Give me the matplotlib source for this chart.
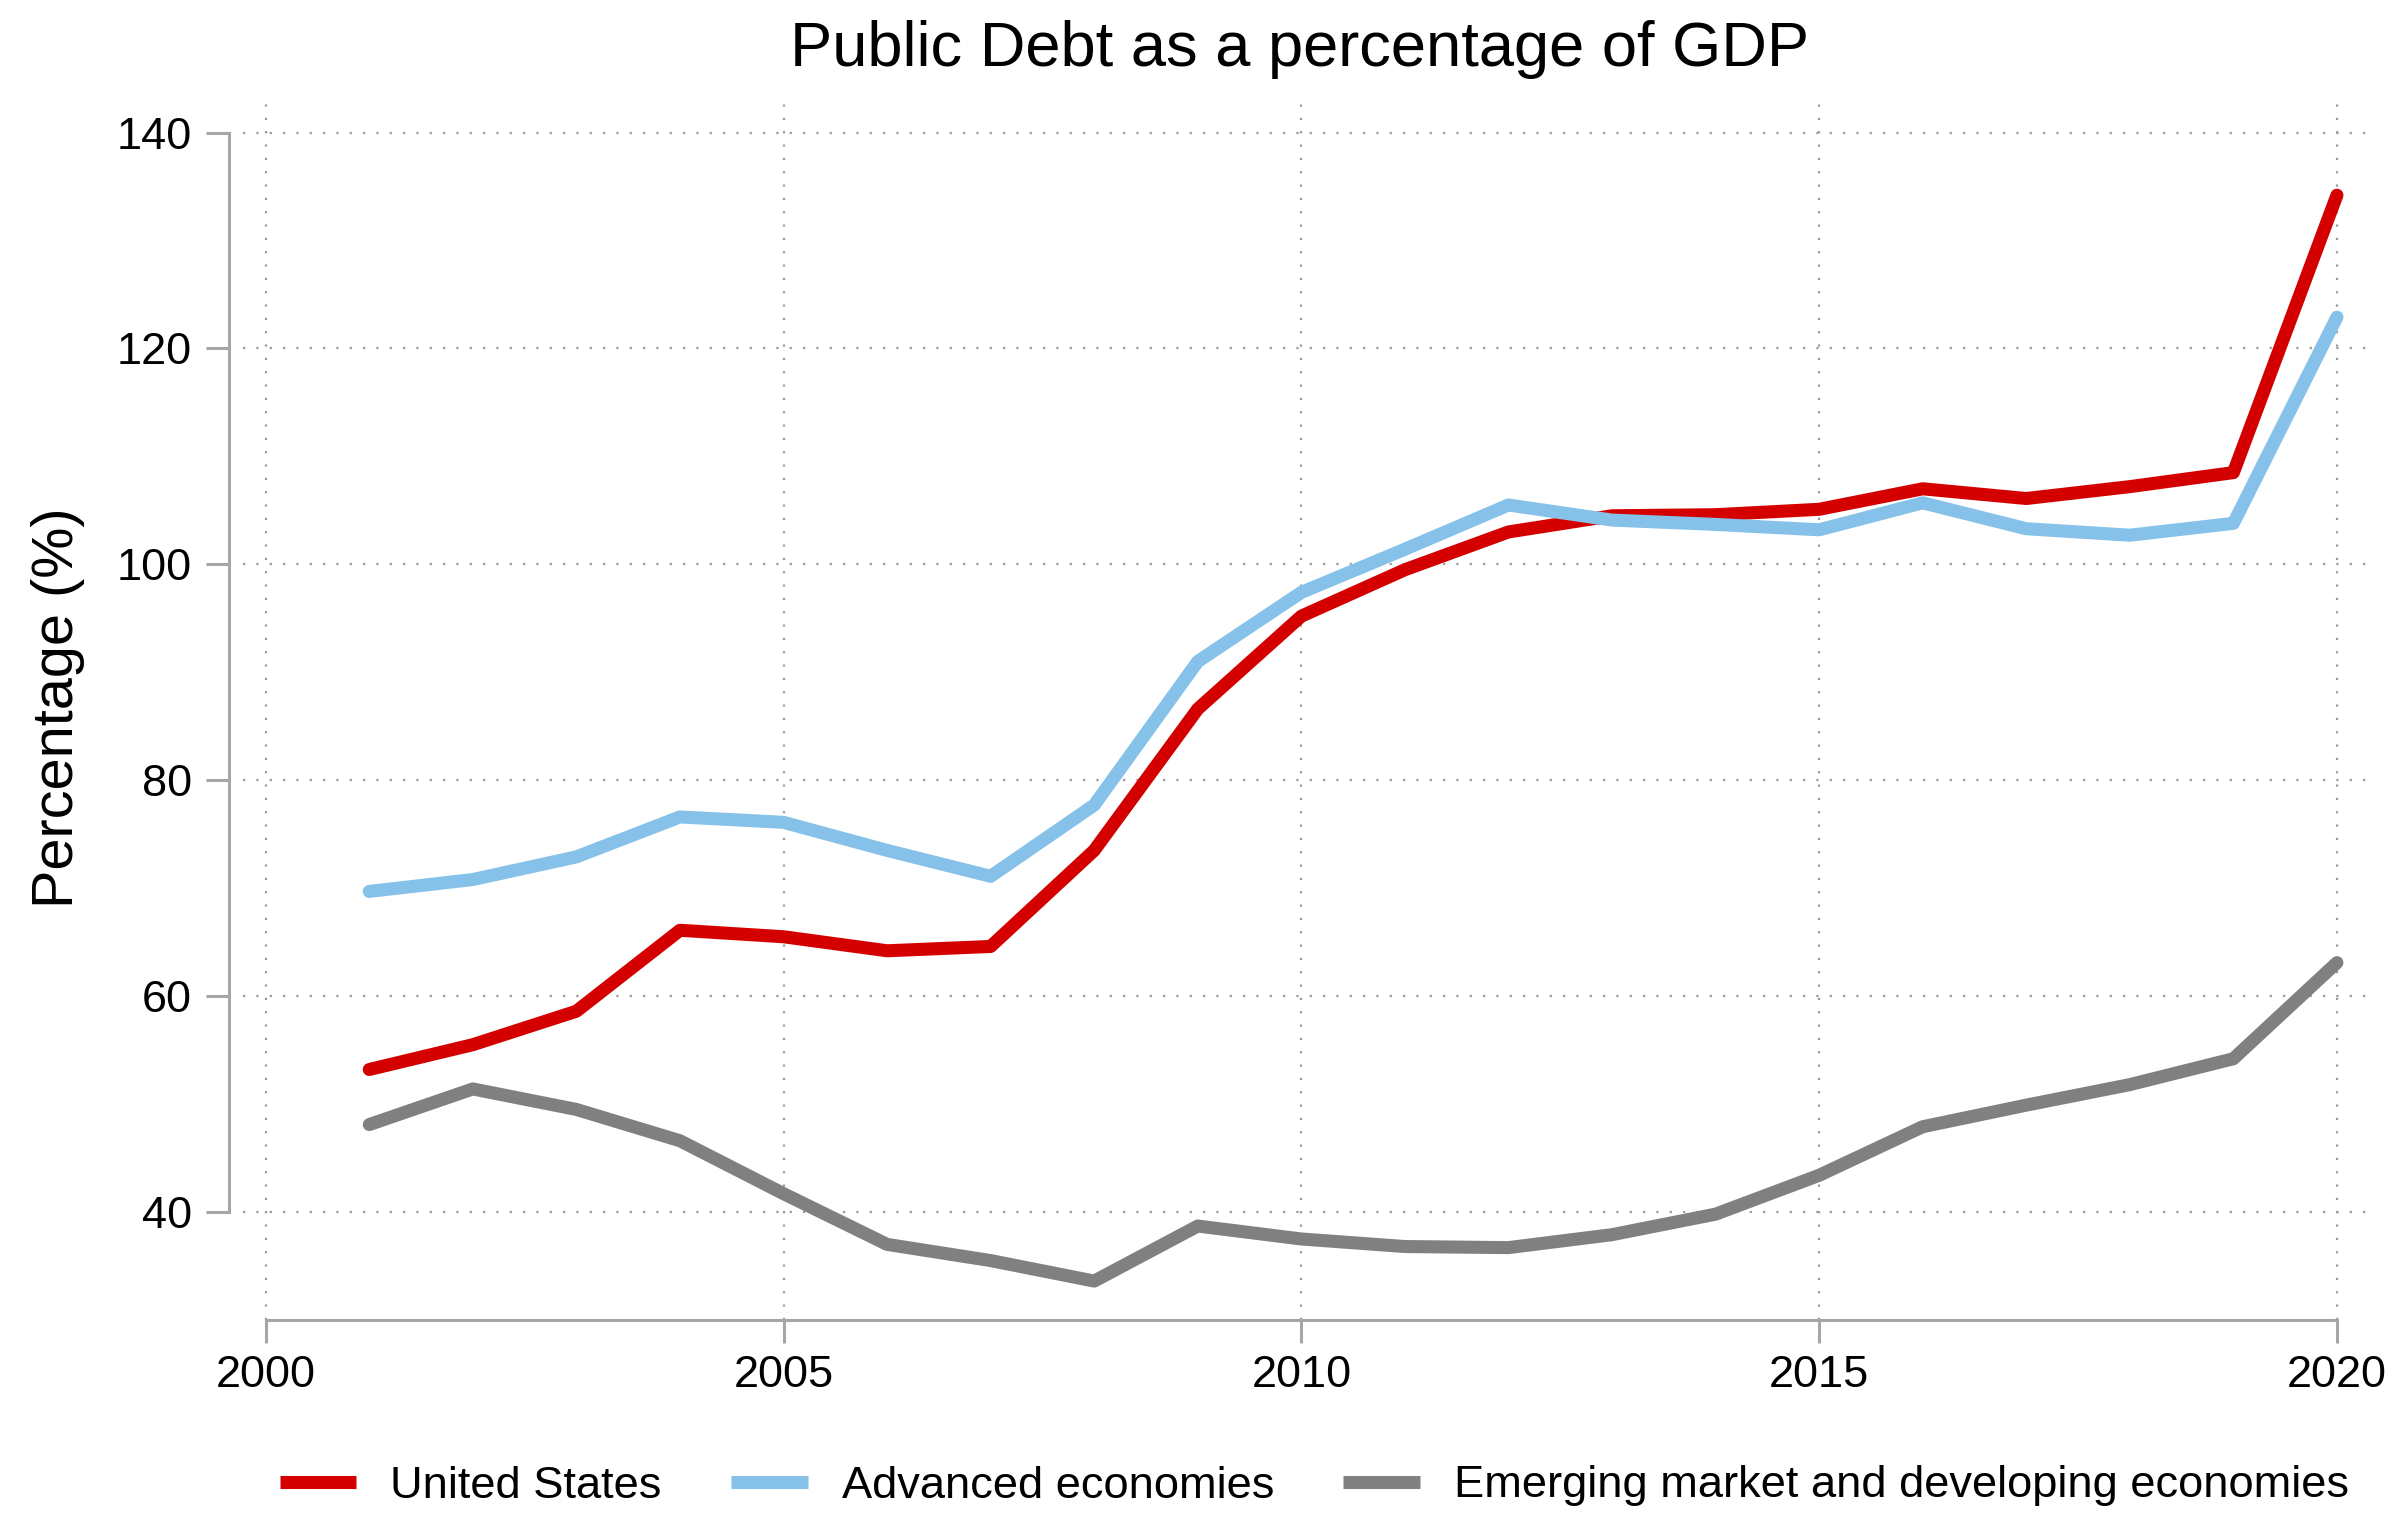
import numpy as np
import matplotlib
matplotlib.use("Agg")
import matplotlib.pyplot as plt

plt.rcParams['font.family'] = ['Liberation Sans', 'DejaVu Sans']

# ─────────────────────────────────────────────
# DATA
# ─────────────────────────────────────────────
years = list(range(2001, 2021))

us_debt = [53.2, 55.5, 58.6, 66.1, 65.5, 64.2, 64.6, 73.5, 86.6, 95.2,
           99.5, 103.0, 104.5, 104.6, 105.1, 107.0, 106.1, 107.2, 108.5, 134.2]

advanced = [69.7, 70.8, 72.9, 76.6, 76.1, 73.5, 71.1, 77.7, 91.0, 97.4,
            101.4, 105.5, 104.1, 103.7, 103.2, 105.7, 103.3, 102.7, 103.8, 122.9]

emerging = [48.1, 51.4, 49.5, 46.6, 41.7, 37.0, 35.5, 33.6, 38.7, 37.5,
            36.8, 36.7, 37.9, 39.8, 43.4, 47.9, 49.9, 51.8, 54.2, 63.1]

series_names = ["United States", "Advanced economies",
                "Emerging market and developing economies"]
series_colors = ["#d40000", "#85c1e9", "#808080"]

x_ticks = [2000, 2005, 2010, 2015, 2020]
y_ticks = [40, 60, 80, 100, 120, 140]

# ─────────────────────────────────────────────
# PLOT
# ─────────────────────────────────────────────
fig = plt.figure(figsize=(23.98, 15.13), dpi=100)
ax = fig.add_axes([0.1013, 0.1276, 0.8862, 0.8076])

for vals, name, col in zip([us_debt, advanced, emerging], series_names, series_colors):
    ax.plot(years, vals, color=col, lw=9.4, label=name,
            solid_capstyle='round', solid_joinstyle='round', zorder=3)

ax.set_xlim(1999.78, 2020.3)
ax.set_ylim(30, 143.2)
ax.set_xticks(x_ticks)
ax.set_yticks(y_ticks)

# stata-like dotted grid
ax.grid(True, color='#9a9a9a', lw=1.6, ls=(0, (1, 5)))
ax.set_axisbelow(True)

for s in ['top', 'right']:
    ax.spines[s].set_visible(False)
spine_col = '#a6a6a6'
ax.spines['left'].set_position(('outward', 10))
ax.spines['left'].set_bounds(40, 140)
ax.spines['bottom'].set_bounds(2000, 2020)
for s in ['left', 'bottom']:
    ax.spines[s].set_color(spine_col)
    ax.spines[s].set_linewidth(2.2)

ax.tick_params(axis='both', colors=spine_col, width=2.2, length=16.5,
               labelcolor='black', labelsize=32.5)
ax.tick_params(axis='y', pad=10)
ax.tick_params(axis='x', pad=8.5)

fig.text(0.542, 1 - 66 / 1513, "Public Debt as a percentage of GDP",
         fontsize=45.5, ha='center', va='baseline')
fig.text(0.0242, 1 - 708 / 1513, "Percentage (%)", rotation=90, fontsize=41.5,
         ha='center', va='center')

leg = fig.legend(loc='center', bbox_to_anchor=(0.548, 1 - 1486 / 1513), ncol=3,
                 frameon=False, fontsize=32.6, handlelength=1.7,
                 columnspacing=1.52, handletextpad=0.75)
for h in leg.get_lines():
    h.set_solid_capstyle('butt')

fig.savefig("out.png", dpi=100)
